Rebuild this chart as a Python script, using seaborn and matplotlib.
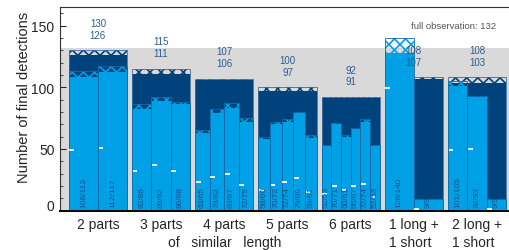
import numpy as np
import matplotlib.pyplot as plt
from matplotlib.ticker import MultipleLocator
from matplotlib.transforms import ScaledTranslation
import seaborn as sns

# groups of split observations
groups = ["2 parts", "3 parts", "4 parts", "5 parts", "6 parts",
          "1 long +\n1 short", "2 long +\n1 short"]

# detections from the union of all parts (lower / upper)
union_lower = [126, 111, 106, 97, 91, 107, 103]
union_upper = [130, 115, 107, 100, 92, 108, 108]

# detections in each single part (lower / upper)
part_lower = [[108, 112], [82, 89, 86], [63, 79, 83, 72], [58, 70, 72, 79, 59],
              [52, 70, 60, 66, 72, 52], [128, 9], [101, 92, 9]]
part_upper = [[113, 117], [86, 92, 88], [65, 82, 87, 75], [60, 72, 74, 80, 61],
              [53, 71, 61, 67, 74, 53], [140, 9], [105, 93, 9]]

# white marker level in each part
part_mark = [[49, 51], [32, 37, 32], [23, 27, 30, 21], [17, 21, 23, 26, 15],
             [13, 20, 17, 20, 21.5, 11], [99, 1], [49, 50, 1]]

full_obs = 132

sns.set_theme(style="ticks")
plt.rcParams["font.family"] = ["Liberation Sans", "DejaVu Sans"]
plt.rcParams["hatch.linewidth"] = 1.2

LIGHT = "#00a0e6"
DARK = "#00437c"
TXT = "#2b5c93"

fig = plt.figure(figsize=(5.09, 2.51), dpi=100)
ax = fig.add_axes([60 / 509, 1 - 211.5 / 251, 1 - 60 / 509, 203.5 / 251])

ax.axhspan(0, full_obs, color="#d9d9d9", lw=0, zorder=0)

gw = 0.92
for i in range(len(groups)):
    lo, hi = union_lower[i], union_upper[i]
    ax.bar(i, lo, width=gw, color=DARK, lw=0, zorder=1)
    ax.bar(i, hi - lo, bottom=lo, width=gw, facecolor="none", edgecolor=DARK,
           hatch="xxx", lw=0, zorder=1)
    ax.bar(i, hi, width=gw, facecolor="none", edgecolor="#3d6fa5", lw=0.6, zorder=1.2)
    ax.text(i, hi + 12.7, str(lo), ha="center", va="center", fontsize=7, color=TXT)
    ax.text(i, hi + 22.3, str(hi), ha="center", va="center", fontsize=7, color=TXT)

    n = len(part_lower[i])
    bw = gw / n
    lefts = i - gw / 2 + bw * np.arange(n)
    for left, plo, phi, mk in zip(lefts, part_lower[i], part_upper[i], part_mark[i]):
        ax.bar(left, plo, width=bw, align="edge", color=LIGHT, lw=0, zorder=2)
        if phi > plo:
            ax.bar(left, phi - plo, bottom=plo, width=bw, align="edge",
                   facecolor="none", edgecolor=LIGHT, hatch="xxx", lw=0, zorder=2)
        ax.bar(left, phi, width=bw, align="edge", facecolor="none",
               edgecolor="#1468a8", lw=0.6, zorder=2.2)
        ax.hlines(mk, left + 0.01, left + 0.085, color="white", lw=1.3, zorder=3)
        ax.text(left + bw / 2, 2.5, f"{plo}/{phi}", rotation=90, ha="center",
                va="bottom", fontsize=6, color="#1b4f8a", zorder=3)

ax.text(6.3, 150.4, f"full observation: {full_obs}", ha="right", va="center",
        fontsize=6.8, color="#555555")

ax.set_xlim(-0.6, (509 - 98) / 63.17)
ax.set_ylim(0, 165)
ax.set_xticks(range(len(groups)), groups, fontsize=10, linespacing=1.35)
for lab in ax.get_xticklabels():
    lab.set_multialignment("left")
ax.tick_params(axis="x", length=0, pad=5)
ax.text(2, -0.155, "of   similar   length", transform=ax.get_xaxis_transform(),
        ha="center", va="center", fontsize=10)

ax.set_yticks([0, 50, 100, 150])
ax.yaxis.set_minor_locator(MultipleLocator(10))
ax.tick_params(axis="y", which="major", direction="in", length=4, width=0.8,
               labelsize=10, pad=4)
ax.tick_params(axis="y", which="minor", direction="in", length=2.5, width=0.6, left=True)
zero = ax.get_yticklabels()[0]
zero.set_transform(zero.get_transform() + ScaledTranslation(0, 6 / 100, fig.dpi_scale_trans))

ax.set_ylabel("Number of final detections", fontsize=10.5)
ax.yaxis.set_label_coords(-0.0646, 0.56)

for s in ["left", "top"]:
    ax.spines[s].set_linewidth(0.8)
    ax.spines[s].set_color("#333333")
ax.spines["bottom"].set_linewidth(1.4)
ax.spines["bottom"].set_color("black")
ax.spines["right"].set_visible(False)

fig.savefig("out.png", dpi=100)
